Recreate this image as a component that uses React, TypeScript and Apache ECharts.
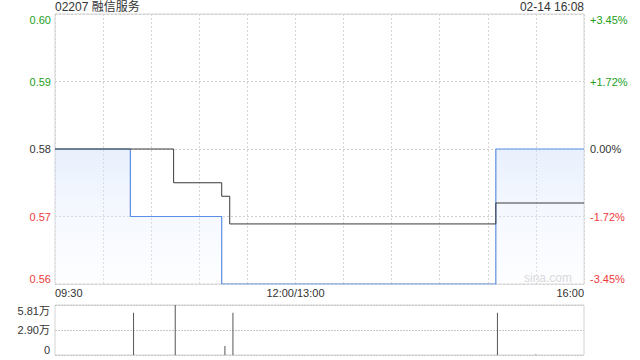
import React, { useEffect, useRef } from "react";
import * as echarts from "echarts";

// Minutes since 09:30 on the trading axis (lunch break removed: 12:00 == 13:00 == 150)
const priceMinutes = [0, 47, 104, 275, 330];
const priceValues = [0.58, 0.57, 0.56, 0.58, 0.58];
const avgMinutes = [0, 74, 104, 109, 275, 330];
const avgValues = [0.58, 0.575, 0.573, 0.5689, 0.572, 0.572];
const volumeMinutes = [49, 75, 106, 111, 276, 300];
const volumeValues = [49000, 58100, 10500, 49000, 49000, 500];
const xTickMinutes = [0, 150, 330];
const xTickLabels = ["09:30", "12:00/13:00", "16:00"];
const prevClose = 0.58;
const title = "02207 融信服务";
const stamp = "02-14 16:08";

const GREEN = "#22a022";
const RED = "#f03a3a";
const DARK = "#333";
const FONT = 'Arial, "Liberation Sans", "Noto Sans CJK SC", sans-serif';

export default function App() {
  const ref = useRef<HTMLDivElement>(null);
  useEffect(() => {
    if (!ref.current) return;
    const chart = echarts.init(ref.current, undefined, { renderer: "svg" });
    const colorFor = (v: number) =>
      Math.abs(v - prevClose) < 1e-9 ? DARK : v > prevClose ? GREEN : RED;
    const pct = (v: number) => {
      const p = ((v - prevClose) / prevClose) * 100;
      if (Math.abs(p) < 1e-6) return "0.00%";
      return (p > 0 ? "+" : "") + p.toFixed(2) + "%";
    };
    const xLabel = (v: number) => {
      const i = xTickMinutes.indexOf(Math.round(v));
      return i >= 0 ? xTickLabels[i] : "";
    };
    chart.setOption({
      animation: false,
      textStyle: { fontFamily: FONT },
      grid: [
        { left: 55, right: 56, top: 14, height: 270, show: true, borderColor: "#d4d4d4", borderWidth: 1 },
        { left: 55, right: 56, top: 305, height: 50, show: true, borderColor: "#d4d4d4", borderWidth: 1 },
      ],
      graphic: [
        { type: "text", left: 55, top: 1, style: { text: title, font: `12px ${FONT}`, fill: DARK } },
        { type: "text", right: 56, top: 1, style: { text: stamp, font: `12px ${FONT}`, fill: DARK } },
        { type: "text", right: 68, top: 272, style: { text: "sina.com", font: `12px ${FONT}`, fill: "#d0d0d0" } },
      ],
      xAxis: [
        {
          type: "value",
          gridIndex: 0,
          min: 0,
          max: 330,
          interval: 30,
          axisLine: { show: false },
          axisTick: { show: false },
          splitLine: { show: true, lineStyle: { color: "#d6d6d6", type: [2, 2] } },
          axisLabel: {
            formatter: xLabel,
            fontSize: 11,
            color: DARK,
            margin: 3,
            alignMinLabel: "left",
            alignMaxLabel: "right",
            showMinLabel: true,
            showMaxLabel: true,
          },
        },
        {
          type: "value",
          gridIndex: 1,
          min: 0,
          max: 330,
          interval: 30,
          axisLine: { show: false },
          axisTick: { show: false },
          splitLine: { show: false },
          axisLabel: { show: false },
        },
      ],
      yAxis: [
        {
          type: "value",
          gridIndex: 0,
          min: 0.56,
          max: 0.6,
          interval: 0.01,
          axisLine: { show: false },
          axisTick: { show: false },
          splitLine: { show: true, lineStyle: { color: "#d0d0d0", type: [2, 2] } },
          axisLabel: {
            fontSize: 11,
            margin: 4,
            formatter: (v: number) => v.toFixed(2),
            color: (v: any) => colorFor(Number(v)),
            verticalAlignMinLabel: "bottom",
            verticalAlignMaxLabel: "top",
          },
        },
        {
          type: "value",
          gridIndex: 0,
          position: "right",
          min: 0.56,
          max: 0.6,
          interval: 0.01,
          axisLine: { show: false },
          axisTick: { show: false },
          splitLine: { show: false },
          axisLabel: {
            fontSize: 11,
            margin: 6,
            formatter: (v: number) => pct(v),
            color: (v: any) => colorFor(Number(v)),
            verticalAlignMinLabel: "bottom",
            verticalAlignMaxLabel: "top",
          },
        },
        {
          type: "value",
          gridIndex: 2 - 1,
          min: 0,
          max: 58100,
          interval: 29050,
          axisLine: { show: false },
          axisTick: { show: false },
          splitLine: { show: true, lineStyle: { color: "#c8c8c8", type: [2, 1] } },
          axisLabel: {
            fontSize: 11,
            margin: 5,
            color: DARK,
            formatter: (v: number) => (v === 0 ? "0" : (v / 10000).toFixed(2) + "万"),
            verticalAlignMinLabel: "bottom",
            verticalAlignMaxLabel: "top",
          },
        },
      ],
      series: [
        {
          type: "line",
          xAxisIndex: 0,
          yAxisIndex: 0,
          step: "end",
          symbol: "none",
          data: priceMinutes.map((m, i) => [m, priceValues[i]]),
          lineStyle: { color: "#5b8de6", width: 1.2 },
          areaStyle: {
            origin: "start",
            color: new echarts.graphic.LinearGradient(0, 0, 0, 1, [
              { offset: 0, color: "rgba(205,222,250,0.65)" },
              { offset: 1, color: "rgba(245,248,255,0.3)" },
            ]),
          },
          z: 3,
        },
        {
          type: "line",
          xAxisIndex: 0,
          yAxisIndex: 0,
          step: "end",
          symbol: "none",
          data: avgMinutes.map((m, i) => [m, avgValues[i]]),
          lineStyle: { color: "#3a3a3a", width: 1 },
          z: 4,
        },
        {
          type: "bar",
          xAxisIndex: 1,
          yAxisIndex: 2,
          barWidth: 1,
          data: volumeMinutes.map((m, i) => [m, volumeValues[i]]),
          itemStyle: { color: "#555" },
        },
      ],
    });
    return () => chart.dispose();
  }, []);
  return <div ref={ref} style={{ width: 640, height: 360, position: "absolute", left: 0, top: 0 }} />;
}
